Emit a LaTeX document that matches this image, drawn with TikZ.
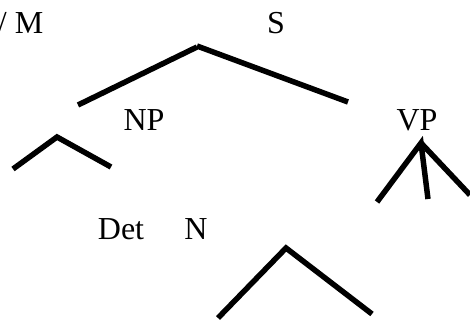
\documentclass[tikz,border=0pt]{standalone}
\usepackage{fontspec}
\setmainfont{Liberation Serif}
\begin{document}
\begin{tikzpicture}[x=1pt,y=-1pt,
  lbl/.style={inner sep=0pt,font=\fontsize{32}{32}\selectfont},
  branch/.style={line width=5.5pt,line cap=butt,line join=miter}]
\useasboundingbox (0,0) rectangle (470,320);
% labels
\node[lbl,anchor=base east] (m) at (43.5,34) {/ M};
\node[lbl,anchor=base] (s) at (276,34) {S};
\node[lbl,anchor=base] (np) at (144,131) {NP};
\node[lbl,anchor=base] (vp) at (417,131) {VP};
\node[lbl,anchor=base] (det) at (121,239) {Det};
\node[lbl,anchor=base] (n) at (196,239) {N};
% branch coordinates
\coordinate (sl) at (78,105);
\coordinate (sa) at (197,47);
\coordinate (sa2) at (197,46);
\coordinate (sr) at (348,102);
\coordinate (npl) at (13,169);
\coordinate (npa) at (57,137);
\coordinate (npr) at (111,167);
\coordinate (vpa) at (421,143);
\coordinate (vpl) at (377,202);
\coordinate (vpm) at (428,199);
\coordinate (vpr) at (470,195);
\coordinate (bl) at (218,318);
\coordinate (ba) at (286,248);
\coordinate (br) at (372,314);
% branches
\draw[branch] (sl) -- (sa);
\draw[branch] (sa2) -- (sr);
\draw[branch] (npl) -- (npa) -- (npr);
\draw[branch] (vpl) -- (vpa) -- (vpm);
\draw[branch] (vpa) -- (vpr);
\draw[branch] (bl) -- (ba) -- (br);
\end{tikzpicture}
\end{document}
